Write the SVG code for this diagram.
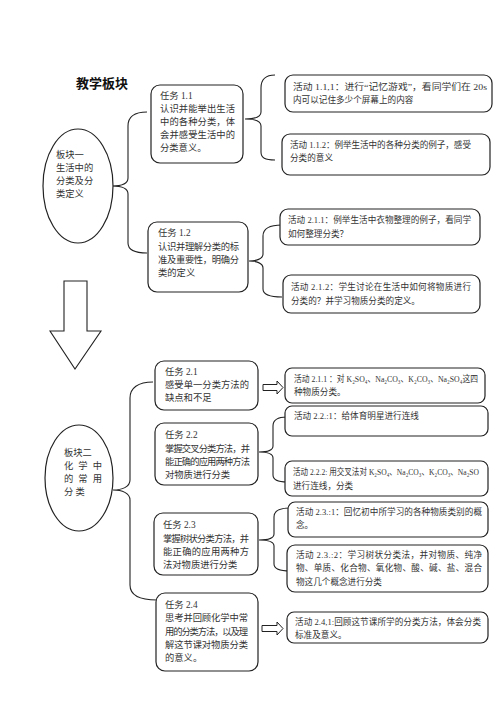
<svg xmlns="http://www.w3.org/2000/svg" width="496" height="702" viewBox="0 0 496 702">
<style>
.bg{fill:#fff}
.box{fill:#fff;stroke:#222;stroke-width:1.2}
.ell{fill:#fff;stroke:#222;stroke-width:1.2}
.con{fill:none;stroke:#222;stroke-width:1.1}
.harrow{fill:#fff;stroke:#222;stroke-width:1}
text{font-family:"Liberation Serif","Noto Sans CJK SC",serif;font-size:9.3px;fill:#333}
text.a{font-size:8.6px}
.title{font-family:"Noto Sans CJK SC",sans-serif;font-size:13px;font-weight:bold;fill:#111}
</style>
<rect class="bg" x="0" y="0" width="496" height="702"/>
<text class="title" x="76" y="88">教学板块</text>

<g id="connectors">
<path class="con" d="M147,112 C135,112 128,116 128,126 L128,178 C128,184 120,186 112,186 C120,186 128,188 128,194 L128,243 C128,250 135,253 147,253"/>
<path class="con" d="M275,75 C265,75 261,80 261,88 L261,112 C261,117 255,119 245,119 C255,119 261,121 261,126 L261,152 C261,158 265,160 275,160"/>
<path class="con" d="M282,225 C270,225 263,228 263,236 L263,254 C263,259 256,261 249,261 C256,261 263,263 263,268 L263,289 C263,295 270,297 282,297"/>
<path class="con" d="M153,382 C138,382 130,388 130,398 L130,480 C130,487 122,490 113,490 C122,490 130,493 130,500 L130,585 C130,595 140,600 157,600"/>
<path class="con" d="M287,417 C278,417 273,420 273,426 L273,446 C273,450 268,452 259,452 C268,452 273,454 273,458 L273,475 C273,480 278,482 287,482"/>
<path class="con" d="M290,508 C280,508 274,511 274,517 L274,534 C274,538 270,540 259,540 C270,540 274,542 274,546 L274,564 C274,569 280,571 290,571"/>
<polygon class="con" points="64,281 87,281 87,331 101,331 75,369 50,331 64,331" style="fill:#fff"/>
<polygon class="harrow" points="263,384.5 277,384.5 277,381 283,387.5 277,394 277,390.5 263,390.5"/>
<polygon class="harrow" points="262,625.5 277,625.5 277,622 283,628.5 277,635 277,631.5 262,631.5"/>
</g>

<g id="block1">
<ellipse class="ell" cx="78" cy="186" rx="35" ry="57"/>
<text x="56" y="158">板块一</text>
<text x="56" y="171">生活中的</text>
<text x="56" y="184">分类及分</text>
<text x="56" y="197">类定义</text>
</g>

<g id="task11">
<rect class="box" x="151" y="85" width="92" height="78" rx="9"/>
<text x="160" y="99">任务 1.1</text>
<text x="160" y="112" textLength="75">认识并能举出生活</text>
<text x="160" y="125" textLength="75">中的各种分类，体</text>
<text x="160" y="138" textLength="75">会并感受生活中的</text>
<text x="160" y="151">分类意义。</text>
</g>

<g id="act111">
<rect class="box" x="285" y="75" width="207" height="37" rx="8"/>
<text class="a" x="293" y="90" textLength="194" lengthAdjust="spacingAndGlyphs">活动 1.1,1：进行“记忆游戏”，看同学们在 20s</text>
<text class="a" x="293" y="103">内可以记住多少个屏幕上的内容</text>
</g>

<g id="act112">
<rect class="box" x="282" y="134" width="208" height="41" rx="8"/>
<text class="a" x="290" y="148" textLength="181">活动 1.1.2：例举生活中的各种分类的例子，感受</text>
<text class="a" x="290" y="161">分类的意义</text>
</g>

<g id="task12">
<rect class="box" x="148" y="222" width="100" height="70" rx="9"/>
<text x="158" y="236">任务 1.2</text>
<text x="158" y="250" textLength="81">认识并理解分类的标</text>
<text x="158" y="263" textLength="81">准及重要性，明确分</text>
<text x="158" y="276">类的定义</text>
</g>

<g id="act211a">
<rect class="box" x="280" y="209" width="200" height="36" rx="8"/>
<text class="a" x="288" y="223" textLength="183">活动 2.1.1：例举生活中衣物整理的例子，看同学</text>
<text class="a" x="288" y="237">如何整理分类？</text>
</g>

<g id="act212">
<rect class="box" x="283" y="275" width="197" height="38" rx="8"/>
<text class="a" x="291" y="290" textLength="180">活动  2.1.2：学生讨论在生活中如何将物质进行</text>
<text class="a" x="291" y="304">分类的？并学习物质分类的定义。</text>
</g>

<g id="block2">
<ellipse class="ell" cx="79" cy="478" rx="34" ry="53"/>
<text x="64" y="456">板块二</text>
<text x="64" y="469" textLength="38">化 学 中</text>
<text x="64" y="482" textLength="38">的 常 用</text>
<text x="64" y="495">分 类</text>
</g>

<g id="task21">
<rect class="box" x="155" y="361" width="103" height="49" rx="9"/>
<text x="165" y="375">任务 2.1</text>
<text x="165" y="388" textLength="84">感受单一分类方法的</text>
<text x="165" y="401">缺点和不足</text>
</g>

<g id="act211b">
<rect class="box" x="285" y="368" width="200" height="35" rx="7"/>
<text class="a" x="294" y="382" textLength="184" lengthAdjust="spacingAndGlyphs">活动 2.1.1 ：对 K₂SO₄、Na₂CO₃、K₂CO₃、Na₂SO₄这四</text>
<text class="a" x="294" y="395">种物质分类。</text>
</g>

<g id="task22">
<rect class="box" x="155" y="423" width="103" height="62" rx="9"/>
<text x="165" y="438">任务 2.2</text>
<text x="165" y="452" textLength="85">掌握交叉分类方法，并</text>
<text x="165" y="465" textLength="85">能正确的应用两种方法</text>
<text x="165" y="478">对物质进行分类</text>
</g>

<g id="act221">
<rect class="box" x="285" y="406" width="203" height="30" rx="7"/>
<text class="a" x="294" y="419">活动 2.2.:1：给体育明星进行连线</text>
</g>

<g id="act222">
<rect class="box" x="285" y="461" width="203" height="35" rx="7"/>
<text class="a" x="293" y="475" textLength="186" lengthAdjust="spacingAndGlyphs">活动 2.2.2: 用交叉法对 K₂SO₄、Na₂CO₃、K₂CO₃、Na₂SO</text>
<text class="a" x="293" y="489">进行连线，分类</text>
</g>

<g id="task23">
<rect class="box" x="154" y="513" width="104" height="62" rx="9"/>
<text x="163" y="528">任务 2.3</text>
<text x="163" y="542" textLength="86">掌握树状分类方法，并</text>
<text x="163" y="555" textLength="86">能正确的应用两种方</text>
<text x="163" y="568">法对物质进行分类</text>
</g>

<g id="act231">
<rect class="box" x="288" y="502" width="200" height="35" rx="7"/>
<text class="a" x="296" y="515" textLength="186">活动 2.3.:1：回忆初中所学习的各种物质类别的概</text>
<text class="a" x="296" y="528">念。</text>
</g>

<g id="act232">
<rect class="box" x="287" y="545" width="201" height="47" rx="8"/>
<text class="a" x="296" y="558" textLength="186">活动  2.3.:2：学习树状分类法，并对物质、纯净</text>
<text class="a" x="296" y="571" textLength="186">物、单质、化合物、氧化物、酸、碱、盐、混合</text>
<text class="a" x="296" y="585">物这几个概念进行分类</text>
</g>

<g id="task24">
<rect class="box" x="156" y="593" width="102" height="78" rx="9"/>
<text x="165" y="608">任务 2.4</text>
<text x="165" y="621" textLength="83">思考并回顾化学中常</text>
<text x="165" y="635" textLength="83">用的分类方法，以及理</text>
<text x="165" y="648" textLength="83">解这节课对物质分类</text>
<text x="165" y="661">的意义。</text>
</g>

<g id="act241">
<rect class="box" x="287" y="612" width="201" height="31" rx="7"/>
<text class="a" x="295" y="625" textLength="186">活动 2.4,1:回顾这节课所学的分类方法，体会分类</text>
<text class="a" x="295" y="638">标准及意义。</text>
</g>
</svg>
